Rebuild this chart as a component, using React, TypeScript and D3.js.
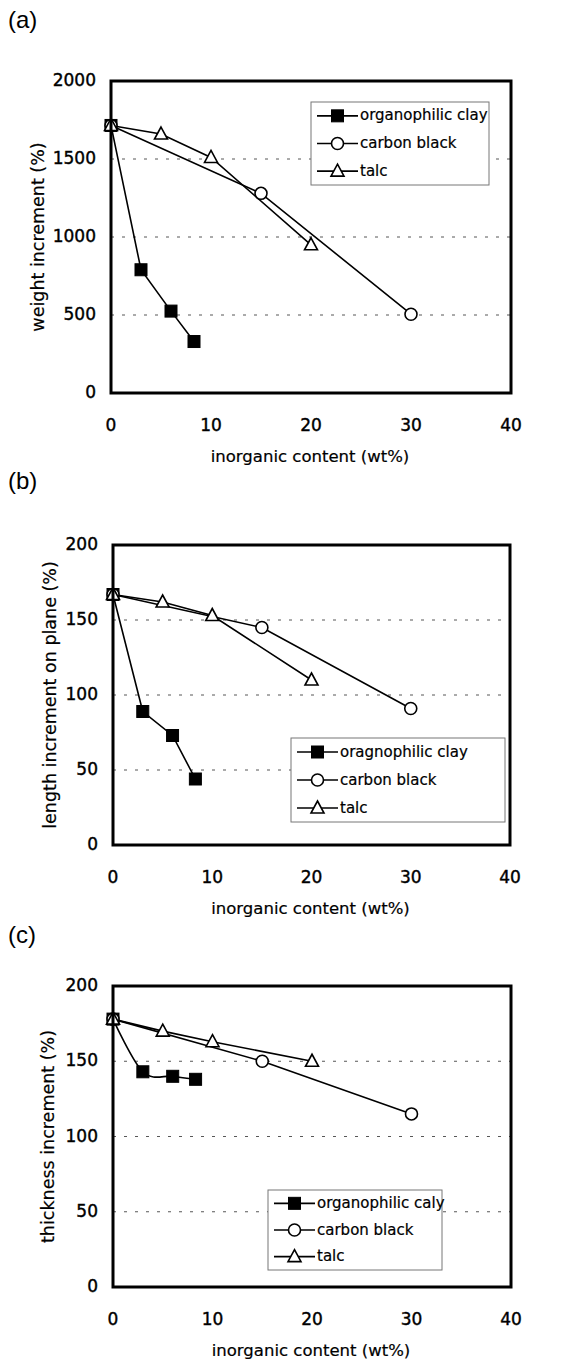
import React from "react";
import * as d3 from "d3";

// ---------- data ----------
const xTicks = [0, 10, 20, 30, 40];

// panel (a) weight increment
const aClayX = [0, 3, 6, 8.3];
const aClayY = [1715, 790, 525, 330];
const aCarbonX = [0, 15, 30];
const aCarbonY = [1715, 1280, 505];
const aTalcX = [0, 5, 10, 20];
const aTalcY = [1715, 1660, 1510, 950];
const aYTicks = [0, 500, 1000, 1500, 2000];

// panel (b) length increment on plane
const bClayX = [0, 3, 6, 8.3];
const bClayY = [167, 89, 73, 44];
const bCarbonX = [0, 15, 30];
const bCarbonY = [167, 145, 91];
const bTalcX = [0, 5, 10, 20];
const bTalcY = [167, 162, 153, 110];
const bYTicks = [0, 50, 100, 150, 200];

// panel (c) thickness increment
const cClayX = [0, 3, 6, 8.3];
const cClayY = [178, 143, 140, 138];
const cCarbonX = [0, 15, 30];
const cCarbonY = [178, 150, 115];
const cTalcX = [0, 5, 10, 20];
const cTalcY = [178, 170, 163, 150];
const cYTicks = [0, 50, 100, 150, 200];

const legendA = ["organophilic clay", "carbon black", "talc"];
const legendB = ["oragnophilic clay", "carbon black", "talc"];
const legendC = ["organophilic caly", "carbon black", "talc"];

const FONT = "'DejaVu Sans', Verdana, sans-serif";
const LFONT = "'Liberation Sans', Arial, sans-serif";

type Pt = [number, number];
const zip = (xs: number[], ys: number[]): Pt[] => xs.map((x, i) => [x, ys[i]]);

function Marker({ kind, x, y }: { kind: string; x: number; y: number }) {
  if (kind === "square")
    return <rect x={x - 6} y={y - 6} width={12} height={12} fill="#000" stroke="#000" strokeWidth={1} />;
  if (kind === "circle")
    return <circle cx={x} cy={y} r={6} fill="#fff" stroke="#000" strokeWidth={1.6} />;
  return (
    <path
      d={`M${x},${y - 7}L${x + 6.5},${y + 5}L${x - 6.5},${y + 5}Z`}
      fill="#fff"
      stroke="#000"
      strokeWidth={1.6}
    />
  );
}

interface PanelProps {
  label: string;
  labelY: number;
  top: number;
  bottom: number;
  left: number;
  right: number;
  yMax: number;
  yTicks: number[];
  yTitle: string;
  yTitleX: number;
  series: { pts: Pt[]; kind: string; smooth?: boolean }[];
  legend: string[];
  legendBox: { x: number; y: number; w: number; h: number };
}

function Panel(p: PanelProps) {
  const x = d3.scaleLinear().domain([0, 40]).range([p.left, p.right]);
  const y = d3.scaleLinear().domain([0, p.yMax]).range([p.bottom, p.top]);
  const lineLin = d3
    .line<Pt>()
    .x((d) => x(d[0]))
    .y((d) => y(d[1]));
  const lineSmooth = d3
    .line<Pt>()
    .x((d) => x(d[0]))
    .y((d) => y(d[1]))
    .curve(d3.curveCatmullRom.alpha(0));
  const kinds = ["square", "circle", "triangle"];
  const lb = p.legendBox;
  const rowH = lb.h / 3;
  return (
    <g>
      <text x={8} y={p.labelY} fontSize={24} fontFamily={LFONT} dominantBaseline="middle">
        {p.label}
      </text>
      {/* gridlines */}
      {p.yTicks
        .filter((t) => t !== 0 && t !== p.yMax)
        .map((t) => (
          <line
            key={t}
            x1={p.left}
            x2={p.right}
            y1={y(t)}
            y2={y(t)}
            stroke="#444"
            strokeWidth={0.9}
            strokeDasharray="3,8"
          />
        ))}
      {/* series */}
      {p.series.map((s, i) => (
        <path
          key={i}
          d={(s.smooth ? lineSmooth : lineLin)(s.pts) || ""}
          fill="none"
          stroke="#000"
          strokeWidth={1.6}
        />
      ))}
      {p.series.map((s, i) =>
        s.pts.map((d, j) => <Marker key={`${i}-${j}`} kind={s.kind} x={x(d[0])} y={y(d[1])} />)
      )}
      {/* frame */}
      <rect
        x={p.left}
        y={p.top}
        width={p.right - p.left}
        height={p.bottom - p.top}
        fill="none"
        stroke="#000"
        strokeWidth={3}
      />
      {/* y ticks */}
      {p.yTicks.map((t) => (
        <text
          key={t}
          x={p.left - 15}
          y={y(t)}
          fontSize={17}
          fontFamily={FONT}
          stroke="#000"
          strokeWidth={0.4}
          textAnchor="end"
          dominantBaseline="middle"
        >
          {t}
        </text>
      ))}
      {/* x ticks */}
      {xTicks.map((t) => (
        <text
          key={t}
          x={x(t)}
          y={p.bottom + 33}
          fontSize={17}
          fontFamily={FONT}
          stroke="#000"
          strokeWidth={0.4}
          textAnchor="middle"
          dominantBaseline="middle"
        >
          {t}
        </text>
      ))}
      <text
        x={(p.left + p.right) / 2 - 1}
        y={p.bottom + 64}
        fontSize={16.5}
        fontFamily={FONT}
        stroke="#000"
        strokeWidth={0.2}
        textAnchor="middle"
        dominantBaseline="middle"
      >
        inorganic content (wt%)
      </text>
      <text
        transform={`translate(${p.yTitleX},${(p.top + p.bottom) / 2}) rotate(-90)`}
        fontSize={17.5}
        fontFamily={FONT}
        stroke="#000"
        strokeWidth={0.2}
        textAnchor="middle"
        dominantBaseline="middle"
      >
        {p.yTitle}
      </text>
      {/* legend */}
      <rect x={lb.x} y={lb.y} width={lb.w} height={lb.h} fill="#fff" stroke="#777" strokeWidth={1} />
      {p.legend.map((name, i) => {
        const cy = lb.y + rowH * (i + 0.5);
        const x1 = lb.x + 6;
        const x2 = lb.x + 47;
        return (
          <g key={name}>
            <line x1={x1} x2={x2} y1={cy} y2={cy} stroke="#000" strokeWidth={1.6} />
            <Marker kind={kinds[i]} x={(x1 + x2) / 2} y={cy} />
            <text
              x={x2 + 2}
              y={cy}
              fontSize={15}
              fontFamily={FONT}
              stroke="#000"
              strokeWidth={0.2}
              dominantBaseline="middle"
            >
              {name}
            </text>
          </g>
        );
      })}
    </g>
  );
}

export default function App() {
  return (
    <svg
      width={584}
      height={1361}
      style={{ position: "absolute", left: 0, top: 0, background: "#fff" }}
    >
      <rect width={584} height={1361} fill="#fff" />
      <Panel
        label="(a)"
        labelY={22}
        top={81}
        bottom={393}
        left={111}
        right={511}
        yMax={2000}
        yTicks={aYTicks}
        yTitle="weight increment (%)"
        yTitleX={39}
        series={[
          { pts: zip(aClayX, aClayY), kind: "square" },
          { pts: zip(aCarbonX, aCarbonY), kind: "circle" },
          { pts: zip(aTalcX, aTalcY), kind: "triangle" },
        ]}
        legend={legendA}
        legendBox={{ x: 311, y: 102, w: 178, h: 83 }}
      />
      <Panel
        label="(b)"
        labelY={483}
        top={545}
        bottom={845}
        left={113}
        right={510}
        yMax={200}
        yTicks={bYTicks}
        yTitle="length increment on plane (%)"
        yTitleX={51}
        series={[
          { pts: zip(bClayX, bClayY), kind: "square" },
          { pts: zip(bCarbonX, bCarbonY), kind: "circle" },
          { pts: zip(bTalcX, bTalcY), kind: "triangle" },
        ]}
        legend={legendB}
        legendBox={{ x: 291, y: 738, w: 214, h: 84 }}
      />
      <Panel
        label="(c)"
        labelY={937}
        top={986}
        bottom={1287}
        left={113}
        right={511}
        yMax={200}
        yTicks={cYTicks}
        yTitle="thickness increment (%)"
        yTitleX={49}
        series={[
          { pts: zip(cClayX, cClayY), kind: "square", smooth: true },
          { pts: zip(cCarbonX, cCarbonY), kind: "circle" },
          { pts: zip(cTalcX, cTalcY), kind: "triangle" },
        ]}
        legend={legendC}
        legendBox={{ x: 268, y: 1190, w: 174, h: 80 }}
      />
    </svg>
  );
}
